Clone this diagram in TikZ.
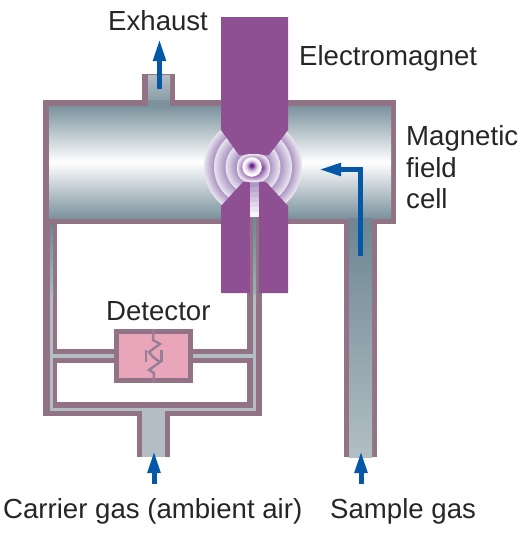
\documentclass[tikz,border=0pt]{standalone}
\usepackage{fontspec}
\setmainfont{Liberation Sans}
\usetikzlibrary{arrows.meta}
\definecolor{wall}{HTML}{927385}
\definecolor{magnet}{HTML}{8F5093}
\definecolor{gasdark}{HTML}{6E8793}
\definecolor{chamberdark}{HTML}{7B929D}
\definecolor{gaslight}{HTML}{B2BEC4}
\definecolor{pinkbox}{HTML}{E9A6BA}
\definecolor{zig}{HTML}{957F95}
\definecolor{arrowblue}{HTML}{0558A8}
\definecolor{ringdark}{HTML}{AE99C4}
\definecolor{ringlight}{HTML}{EEEBF3}
\definecolor{ringcore}{HTML}{7A2F95}
\tikzset{
  label/.style={font=\fontsize{27.6}{31}\selectfont,text=black!85,inner sep=0pt,anchor=base west},
  flow/.style={draw=arrowblue,line width=5pt,-{Triangle[length=22pt,width=12pt]}},
  zigline/.style={draw=zig,line width=2.4pt}
}
\begin{document}
\begin{tikzpicture}[x=1pt,y=-1pt]
\useasboundingbox (0,0) rectangle (529,533);
% lower tube network walls
\fill[wall] (43,218) rectangle (57,416);
\fill[wall] (247,218) rectangle (262,416);
\fill[wall] (43,402) rectangle (262,416);
\fill[wall] (50,349) rectangle (255,363);
% channels
\shade[top color=gasdark,bottom color=gaslight] (50,224) rectangle (53,300);
\fill[gaslight] (50,300) rectangle (53,411);
\shade[top color=gasdark,bottom color=gaslight] (253,218) rectangle (256,300);
\fill[gaslight] (253,300) rectangle (256,411);
\fill[gaslight] (50,408) rectangle (256,411);
\fill[gaslight] (50,354) rectangle (256,358);
% carrier stub
\fill[wall] (137,414) rectangle (170,457);
\fill[gaslight] (142,411) rectangle (165,457);
% sample tube
\fill[wall] (344,218) rectangle (377,457);
\shade[top color=gasdark,bottom color=gaslight] (349,224) rectangle (372,457);
% exhaust
\fill[wall] (142,74) rectangle (175,110);
\shade[top color=gaslight,bottom color=chamberdark] (148,75) rectangle (170,110);
% chamber
\fill[wall] (43,100) rectangle (396,224);
\shade[top color=chamberdark,bottom color=white] (49,106) rectangle (391,162);
\shade[top color=white,bottom color=chamberdark] (49,162) rectangle (391,218);
\fill[chamberdark] (148,100) rectangle (170,106);
\fill[gasdark] (349,218) rectangle (372,224);
% waves
\foreach \Ro/\Ri in {49/39,39/27.5,27.5/17}{
  \foreach \i in {0,...,9}{
    \pgfmathsetmacro\rad{\Ro-\i*(\Ro-\Ri)/10}
    \pgfmathsetmacro\pct{\i*10+10}
    \fill[ringdark!\pct!ringlight] (253,167) circle (\rad);
  }
}
% magnet
\fill[magnet] (221,17) -- (288,17) -- (288,130) -- (269,155) -- (239,155) -- (221,130) -- cycle;
\fill[magnet] (221,206) -- (243,182) -- (250,182) -- (250,293) -- (221,293) -- cycle;
\fill[magnet] (288,206) -- (266,182) -- (259,182) -- (259,293) -- (288,293) -- cycle;
% gap column
\foreach \i in {0,...,6}{
  \pgfmathsetmacro\pct{100-\i*15}
  \fill[ringdark!\pct!white] (250,{182+\i*5}) rectangle (259,{187+\i*5});
}
\fill[wall] (250,217) rectangle (259,293);
\shade[top color=gasdark,bottom color=gaslight!70!gasdark] (253,217) rectangle (256,293);
% central blob
\foreach \i in {0,...,7}{
  \pgfmathsetmacro\pct{\i*12}
  \fill[ringcore!\pct!ringlight,rounded corners=12pt] ({237+\i*0.9},{154+\i*0.8}) rectangle ({270-\i*0.9},{182-\i*0.8});
}
\foreach \i in {0,...,9}{
  \pgfmathsetmacro\pct{\i*\i*1.4}
  \pgfmathsetmacro\rad{9.8-\i*0.9}
  \fill[ringcore!\pct!white] (252,{167-\i*0.12}) circle (\rad);
}
% detector
\node[name=det,draw=wall,line width=5pt,fill=pinkbox,minimum width=74pt,minimum height=49pt,inner sep=0pt] at (153.5,356) {};
\draw[zigline] (det.north) -- (153,340) -- (160,344) -- (149,352) -- (153,357) -- (160,362) -- (149,370) -- (154,373) -- (det.south);
\draw[zig,line width=2.6pt] (146,350) -- (146,362) (161.5,350) -- (161.5,362);
% arrows
\coordinate (a1) at (159.5,89); \coordinate (a1t) at (159.5,39);
\draw[flow] (a1) -- (a1t);
\coordinate (a2) at (360.5,256); \coordinate (a2e) at (360.5,169.5); \coordinate (a2t) at (319,169.5);
\draw[flow,line join=miter] (a2) -- (a2e) -- (a2t);
\coordinate (a3) at (154,484); \coordinate (a3t) at (154,451);
\draw[flow] (a3) -- (a3t);
\coordinate (a4) at (361,484); \coordinate (a4t) at (361,451);
\draw[flow] (a4) -- (a4t);
% labels
\node[label,name=l1] at (108,30) {Exhaust};
\node[label,name=l2] at (299,65) {Electromagnet};
\node[label,name=l3] at (406,145) {Magnetic};
\node[label,name=l4] at (406,177) {field};
\node[label,name=l5] at (406,208) {cell};
\node[label,name=l6] at (106,320) {Detector};
\node[label,name=l7] at (3,518) {Carrier gas (ambient air)};
\node[label,name=l8] at (330,518) {Sample gas};
\end{tikzpicture}
\end{document}
